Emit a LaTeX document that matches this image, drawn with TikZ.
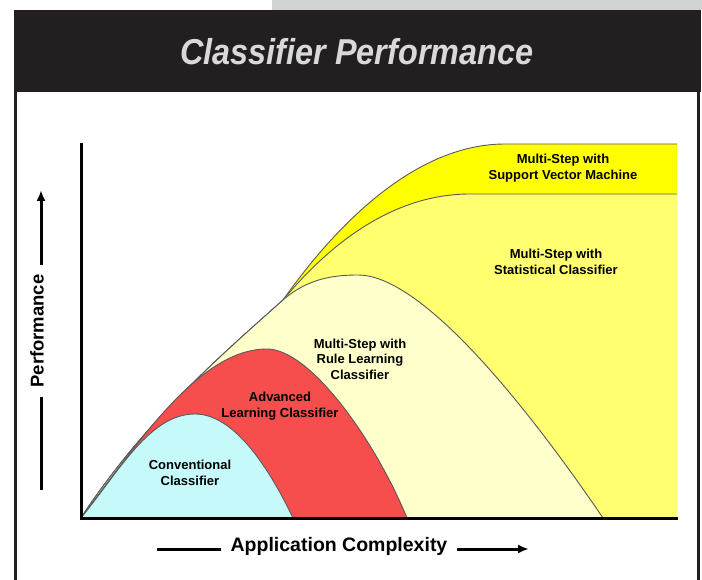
\documentclass[tikz,border=0pt]{standalone}
\usepackage{graphicx}
\usepackage{fontspec}
\setmainfont{Liberation Sans}
\usepackage{tikz}
\usetikzlibrary{positioning,
arrows.meta}
\definecolor{barblack}{HTML}{231F20}
\definecolor{bargray}{HTML}{D1D3D4}
\definecolor{titlegray}{HTML}{D9D9D9}
\definecolor{svmyellow}{HTML}{FFFF00}
\definecolor{statyellow}{HTML}{FFFF70}
\definecolor{rulecream}{HTML}{FFFFCC}
\definecolor{advred}{HTML}{F64D4D}
\definecolor{convcyan}{HTML}{C6FAFA}
\tikzstyle{Region} = [
draw=black!65,
line width=0.9pt
]
\tikzstyle{Label} = [
font=\fontsize{13}{15.5}\selectfont\bfseries,
align=center,
inner sep=0.1mm
]
\tikzstyle{AxisName} = [
font=\fontsize{19.5}{22}\selectfont\bfseries,
inner xsep=9pt,
inner ysep=0.1mm,
anchor=mid
]
\tikzstyle{Axis} = [line width=3pt]
\tikzstyle{AxisArrow} = [
line width=3pt,
-{Latex[length=11pt,width=9pt]}
]

\begin{document}
\begin{tikzpicture}[x=1pt,y=-1pt]
   \useasboundingbox (0,0) rectangle (702,580);
   % frame and title bar
   \fill[bargray] (272,0) rectangle (702,10);
   \fill[barblack] (14,10) rectangle (701,92);
   \fill[barblack] (14,92) rectangle (17,580);
   \fill[barblack] (697,92) rectangle (700,580);
   \node[font=\fontsize{36}{40}\selectfont\bfseries\itshape, text=titlegray] (title) at (357,52) {\scalebox{0.9}[1]{Classifier Performance}};

   % regions, outermost first
   \draw[Region, fill=svmyellow] (677,518) -- (81,518) .. controls (145,420) and (225,352) .. (283,300) .. controls (315,255) and (400,144) .. (505,144) -- (677,144);
   \draw[Region, fill=statyellow] (677,518) -- (81,518) .. controls (145,420) and (225,352) .. (283,300) .. controls (315,262) and (380,194) .. (470,194) -- (677,194);
   \draw[Region, fill=rulecream] (81,518) .. controls (145,420) and (225,352) .. (283,300) .. controls (308,278) and (335,275) .. (358,275) .. controls (430,275) and (550,440) .. (603,518);
   \draw[Region, fill=advred] (81,518) .. controls (140,440) and (200,349) .. (267,349) .. controls (310,349) and (375,440) .. (407,518);
   \draw[Region, fill=convcyan] (81,518) .. controls (120,470) and (150,414) .. (195,414) .. controls (235,414) and (270,470) .. (293,518);

   % axes
   \coordinate (o) at (81,518);
   \coordinate (ytop) at (81,143);
   \coordinate (xend) at (678,518);
   \draw[Axis] (ytop) -- (o) -- (xend);

   % region labels
   \node[Label] (svm) at (563,168) {Multi-Step with\\Support Vector Machine};
   \node[Label] (stat) at (556,262) {Multi-Step with\\Statistical Classifier};
   \node[Label] (rule) at (360,359) {Multi-Step with\\Rule Learning\\Classifier};
   \node[Label] (adv) at (280,406) {Advanced\\Learning Classifier};
   \node[Label] (conv) at (190,473) {Conventional\\Classifier};

   % axis names
   \node[AxisName, rotate=90, font=\fontsize{18.5}{22}\selectfont\bfseries] (perf) at (41,331) {Performance};
   \coordinate (perfbot) at (41,490);
   \coordinate (perftip) at (41,190);
   \draw[Axis] (perfbot) -- (perf.mid west);
   \draw[AxisArrow] (perf.mid east) -- (perftip);

   \node[AxisName] (appl) at (339,549) {Application Complexity};
   \coordinate (applstart) at (157,549);
   \coordinate (appltip) at (529,549);
   \draw[Axis] (applstart) -- (appl.mid west);
   \draw[AxisArrow] (appl.mid east) -- (appltip);
\end{tikzpicture}
\end{document}
